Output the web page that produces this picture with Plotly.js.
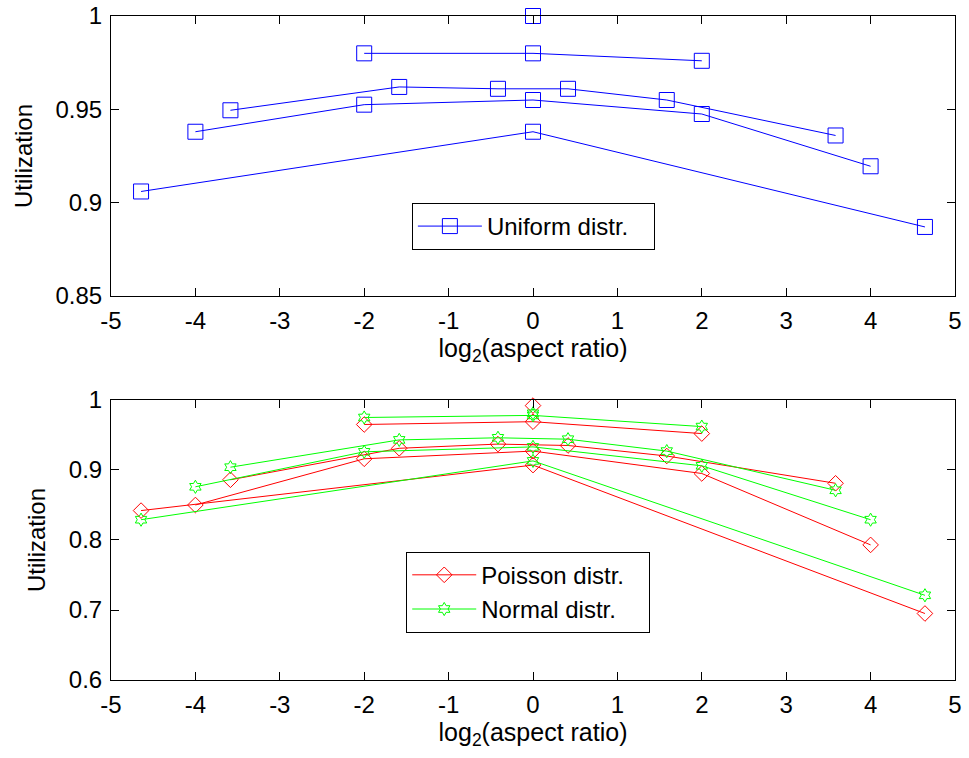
<!DOCTYPE html>
<html>
<head>
<meta charset="utf-8">
<script src="https://cdn.plot.ly/plotly-3.0.1.min.js"></script>
<style>html,body{margin:0;padding:0;background:#fff;}#chart{width:969px;height:758px;}</style>
</head>
<body>
<div id="chart"></div>
<script>
// x positions: log2 of aspect ratios
const xSingle = [0];
const xA = [-2, 0, 2];
const xB = [-3.585, -1.585, -0.415, 0.415, 1.585, 3.585];
const xC = [-4, -2, 0, 2, 4];
const xD = [-4.644, 0, 4.644];

// Uniform distribution (top panel)
const uniSingle = [1.0];
const uniA = [0.980, 0.980, 0.976];
const uniB = [0.9495, 0.962, 0.961, 0.961, 0.955, 0.936];
const uniC = [0.938, 0.9525, 0.955, 0.9475, 0.9195];
const uniD = [0.906, 0.938, 0.887];

// Poisson distribution (bottom panel)
const poiSingle = [0.992];
const poiA = [0.965, 0.969, 0.952];
const poiB = [0.886, 0.931, 0.937, 0.935, 0.920, 0.881];
const poiC = [0.850, 0.916, 0.927, 0.895, 0.793];
const poiD = [0.842, 0.907, 0.695];

// Normal distribution (bottom panel)
const norSingle = [0.981];
const norA = [0.975, 0.978, 0.962];
const norB = [0.904, 0.943, 0.946, 0.944, 0.927, 0.871];
const norC = [0.876, 0.926, 0.933, 0.906, 0.829];
const norD = [0.829, 0.913, 0.721];

const xTickVals = [-5, -4, -3, -2, -1, 0, 1, 2, 3, 4, 5];
const xTickText = ['-5', '-4', '-3', '-2', '-1', '0', '1', '2', '3', '4', '5'];
const yTopVals = [0.85, 0.9, 0.95, 1];
const yTopText = ['0.85', '0.9', '0.95', '1'];
const yBotVals = [0.6, 0.7, 0.8, 0.9, 1];
const yBotText = ['0.6', '0.7', '0.8', '0.9', '1'];

const FONT = 'Liberation Sans, Arial, sans-serif';
const PAD = '\u00a0\u00a0\u00a0';

function mk(x, y, name, color, symbol, size, xa, ya, leg, show) {
  return {
    type: 'scatter', mode: 'lines+markers', x: x, y: y, name: name + PAD,
    xaxis: xa, yaxis: ya, legend: leg, showlegend: show, cliponaxis: false,
    line: {color: color, width: 1},
    marker: {symbol: symbol, size: size, color: color, line: {color: color, width: 1}},
    hoverinfo: 'x+y'
  };
}

const BLUE = '#0000ff', RED = '#ff0000', GREEN = '#00ff00';
const traces = [
  mk(xSingle, uniSingle, 'Uniform distr.', BLUE, 'square-open', 15, 'x', 'y', 'legend', true),
  mk(xA, uniA, 'Uniform distr.', BLUE, 'square-open', 15, 'x', 'y', 'legend', false),
  mk(xB, uniB, 'Uniform distr.', BLUE, 'square-open', 15, 'x', 'y', 'legend', false),
  mk(xC, uniC, 'Uniform distr.', BLUE, 'square-open', 15, 'x', 'y', 'legend', false),
  mk(xD, uniD, 'Uniform distr.', BLUE, 'square-open', 15, 'x', 'y', 'legend', false),

  mk(xSingle, poiSingle, 'Poisson distr.', RED, 'diamond-open', 12, 'x2', 'y2', 'legend2', true),
  mk(xA, poiA, 'Poisson distr.', RED, 'diamond-open', 12, 'x2', 'y2', 'legend2', false),
  mk(xB, poiB, 'Poisson distr.', RED, 'diamond-open', 12, 'x2', 'y2', 'legend2', false),
  mk(xC, poiC, 'Poisson distr.', RED, 'diamond-open', 12, 'x2', 'y2', 'legend2', false),
  mk(xD, poiD, 'Poisson distr.', RED, 'diamond-open', 12, 'x2', 'y2', 'legend2', false),

  mk(xSingle, norSingle, 'Normal distr.', GREEN, 'hexagram-open', 10, 'x2', 'y2', 'legend2', true),
  mk(xA, norA, 'Normal distr.', GREEN, 'hexagram-open', 10, 'x2', 'y2', 'legend2', false),
  mk(xB, norB, 'Normal distr.', GREEN, 'hexagram-open', 10, 'x2', 'y2', 'legend2', false),
  mk(xC, norC, 'Normal distr.', GREEN, 'hexagram-open', 10, 'x2', 'y2', 'legend2', false),
  mk(xD, norD, 'Normal distr.', GREEN, 'hexagram-open', 10, 'x2', 'y2', 'legend2', false)
];

function xax(anchor) {
  return {
    anchor: anchor, domain: [0, 1], range: [-5, 5],
    tickmode: 'array', tickvals: xTickVals, ticktext: xTickText,
    ticks: 'inside', ticklen: 8, tickcolor: '#000', tickwidth: 1,
    showline: true, linecolor: '#000', linewidth: 1, mirror: 'allticks',
    showgrid: false, zeroline: false, ticklabelstandoff: 3,
    tickfont: {family: FONT, size: 24, color: '#000'},
    title: {text: 'log<sub>2</sub>(aspect ratio)', font: {family: FONT, size: 25, color: '#000'}, standoff: 5}
  };
}
function yax(anchor, dom, rng, vals, txt) {
  return {
    anchor: anchor, domain: dom, range: rng,
    tickmode: 'array', tickvals: vals, ticktext: txt,
    ticks: 'inside', ticklen: 8, tickcolor: '#000', tickwidth: 1,
    showline: true, linecolor: '#000', linewidth: 1, mirror: 'allticks',
    showgrid: false, zeroline: false, ticklabelstandoff: 3,
    tickfont: {family: FONT, size: 24, color: '#000'},
    title: {text: 'Utilization', font: {family: FONT, size: 24, color: '#000'}, standoff: 16}
  };
}

const layout = {
  width: 969, height: 758,
  margin: {l: 111, r: 14, t: 16, b: 78},
  paper_bgcolor: '#fff', plot_bgcolor: '#fff',
  font: {family: FONT, color: '#000'},
  xaxis: xax('y'),
  yaxis: yax('x', [0.5783, 1], [0.85, 1], yTopVals, yTopText),
  xaxis2: xax('y2'),
  yaxis2: yax('x2', [0, 0.4217], [0.6, 1], yBotVals, yBotText),
  legend: {
    x: 0.3565, y: 0.7184, xanchor: 'left', yanchor: 'top',
    bgcolor: '#fff', bordercolor: '#000', borderwidth: 1,
    font: {family: FONT, size: 24, color: '#000'}, itemwidth: 64
  },
  legend2: {
    x: 0.3498, y: 0.1932, xanchor: 'left', yanchor: 'top',
    bgcolor: '#fff', bordercolor: '#000', borderwidth: 1,
    font: {family: FONT, size: 24, color: '#000'}, itemwidth: 64, tracegroupgap: 0
  },
  showlegend: true
};

Plotly.newPlot('chart', traces, layout, {displayModeBar: false, staticPlot: true});
</script>
</body>
</html>
